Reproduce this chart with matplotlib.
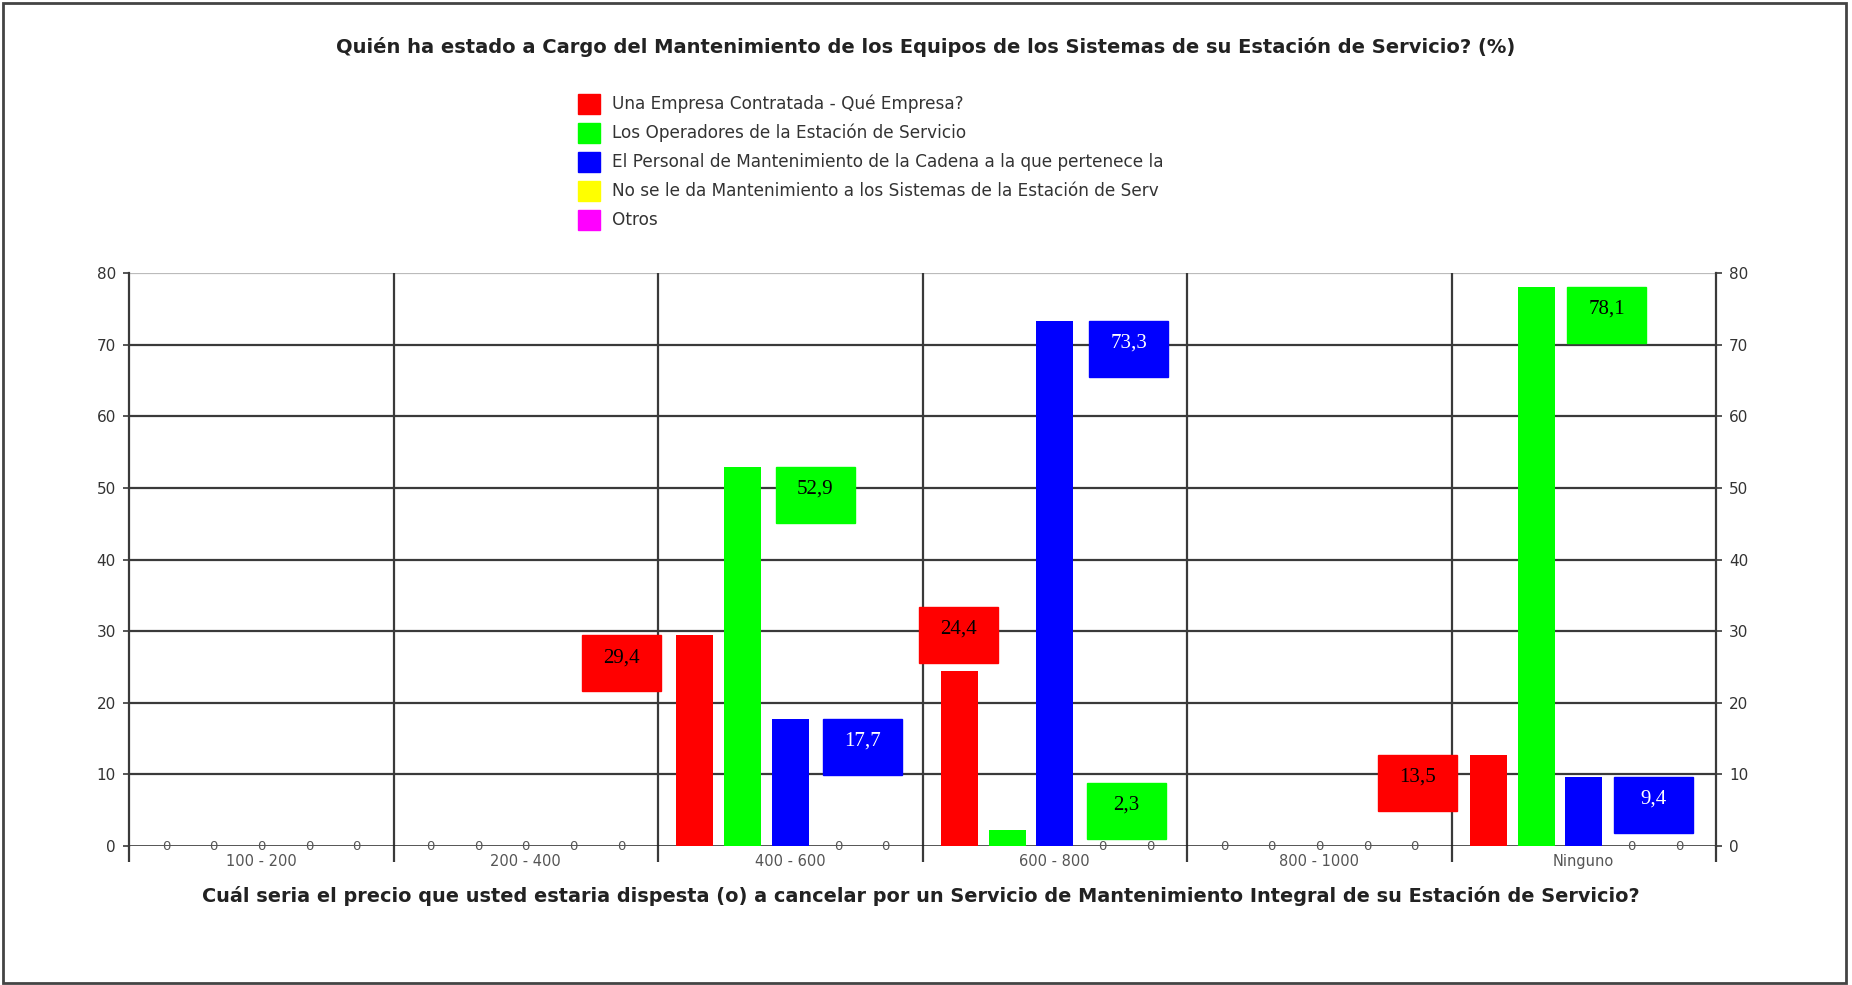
import matplotlib
matplotlib.use('Agg')
import matplotlib.pyplot as plt
from matplotlib.patches import Rectangle

# data
categories = ['100 - 200', '200 - 400', '400 - 600', '600 - 800', '800 - 1000', 'Ninguno']
series_names = [
    'Una Empresa Contratada - Qué Empresa?',
    'Los Operadores de la Estación de Servicio',
    'El Personal de Mantenimiento de la Cadena a la que pertenece la',
    'No se le da Mantenimiento a los Sistemas de la Estación de Serv',
    'Otros',
]
empresa = [0, 0, 29.4, 24.4, 0, 12.7]
operadores = [0, 0, 52.9, 2.3, 0, 78.1]
personal = [0, 0, 17.7, 73.3, 0, 9.6]
sin_mant = [0, 0, 0, 0, 0, 0]
otros = [0, 0, 0, 0, 0, 0]
series = [empresa, operadores, personal, sin_mant, otros]
colors = ['#ff0000', '#00ff00', '#0000ff', '#ffff00', '#ff00ff']

# value boxes typed on the chart: (series, category, text)
box_labels = [
    (0, 2, '29,4'), (1, 2, '52,9'), (2, 2, '17,7'),
    (0, 3, '24,4'), (2, 3, '73,3'), (1, 3, '2,3'),
    (1, 5, '78,1'), (0, 5, '13,5'), (2, 5, '9,4'),
]
# where each box sits relative to its bar (dx in category units, dy in %)
box_offsets = [
    (-0.427, 0), (0.126, 0), (0.124, 0),
    (-0.152, 9.0), (0.13, 0), (0.302, 6.5),
    (0.117, 0), (-0.417, 0), (0.114, 0),
]

W, H = 1852, 985
fig = plt.figure(figsize=(W / 100, H / 100), dpi=100)
ax = fig.add_axes([129 / W, 1 - 846 / H, (1716 - 129) / W, (846 - 273) / H])

slot = 0.1803
bar_w = 0.14
grid_c = '#3a3a3a'

ax.set_xlim(-0.5, len(categories) - 0.5)
ax.set_ylim(0, 80)

for y in range(10, 80, 10):
    ax.axhline(y, color=grid_c, lw=1.6, zorder=1)
ax.axhline(80, color='#bbbbbb', lw=1.6, zorder=1)
for x in range(1, len(categories)):
    ax.axvline(x - 0.5, color=grid_c, lw=1.6, zorder=1)

for j, vals in enumerate(series):
    xs = [i + (j - 2) * slot for i in range(len(categories))]
    ax.bar(xs, vals, width=bar_w, color=colors[j], zorder=3)
    for x, v in zip(xs, vals):
        if v == 0:
            ax.text(x, 0, '0', ha='center', va='center', fontsize=9.5,
                    color='#555555', zorder=4)

ax.axhline(0, color='#222222', lw=1.8, zorder=2)

box_w, box_h = 0.2987, 7.82
for (j, i, txt), (dx, dy) in zip(box_labels, box_offsets):
    cx = i + (j - 2) * slot
    left = cx + dx
    top = series[j][i] + dy
    ax.add_patch(Rectangle((left, top - box_h), box_w, box_h, color=colors[j],
                           zorder=5, clip_on=False))
    ax.text(left + box_w / 2, top - 3.1, txt, ha='center', va='center',
            fontsize=15, family='Liberation Serif',
            color='white' if j == 2 else 'black', zorder=6)

for s in ['left', 'right']:
    ax.spines[s].set_color(grid_c)
    ax.spines[s].set_linewidth(1.6)
ax.spines['top'].set_visible(False)
ax.spines['bottom'].set_visible(False)

ax.set_yticks(range(0, 81, 10))
ax.tick_params(axis='y', which='both', left=True, right=True, labelleft=True,
               labelright=True, length=4.5, width=1.2, color=grid_c,
               labelsize=11, labelcolor='#333333', pad=5)
ax.set_xticks(range(len(categories)))
ax.set_xticklabels(categories)
ax.set_xticks([i - 0.5 for i in range(len(categories) + 1)], minor=True)
ax.tick_params(axis='x', which='major', length=0, labelsize=10.5,
               labelcolor='#555555', pad=6)
ax.tick_params(axis='x', which='minor', length=11.5, width=1.6, color=grid_c)

fig.text(926 / W, 1 - 47 / H,
         'Quién ha estado a Cargo del Mantenimiento de los Equipos de los Sistemas de su Estación de Servicio? (%)',
         ha='center', va='center', fontsize=14, fontweight='bold', color='#222222')
fig.text(921 / W, 1 - 896 / H,
         'Cuál seria el precio que usted estaria dispesta (o) a cancelar por un Servicio de Mantenimiento Integral de su Estación de Servicio?',
         ha='center', va='center', fontsize=13.9, fontweight='bold', color='#222222')

# legend drawn by hand
for k, (name, c) in enumerate(zip(series_names, colors)):
    yc = 104 + k * 29
    fig.add_artist(Rectangle((578 / W, 1 - (yc + 10) / H), 22 / W, 20 / H,
                             color=c, transform=fig.transFigure))
    fig.text(612 / W, 1 - yc / H, name, ha='left', va='center',
             fontsize=12.2, color='#333333')

# outer frame
fig.add_artist(Rectangle((3 / W, 2 / H), 1843 / W, 980 / H, fill=False,
                         edgecolor='#444444', lw=2, transform=fig.transFigure))

fig.savefig('out.png', dpi=100)
